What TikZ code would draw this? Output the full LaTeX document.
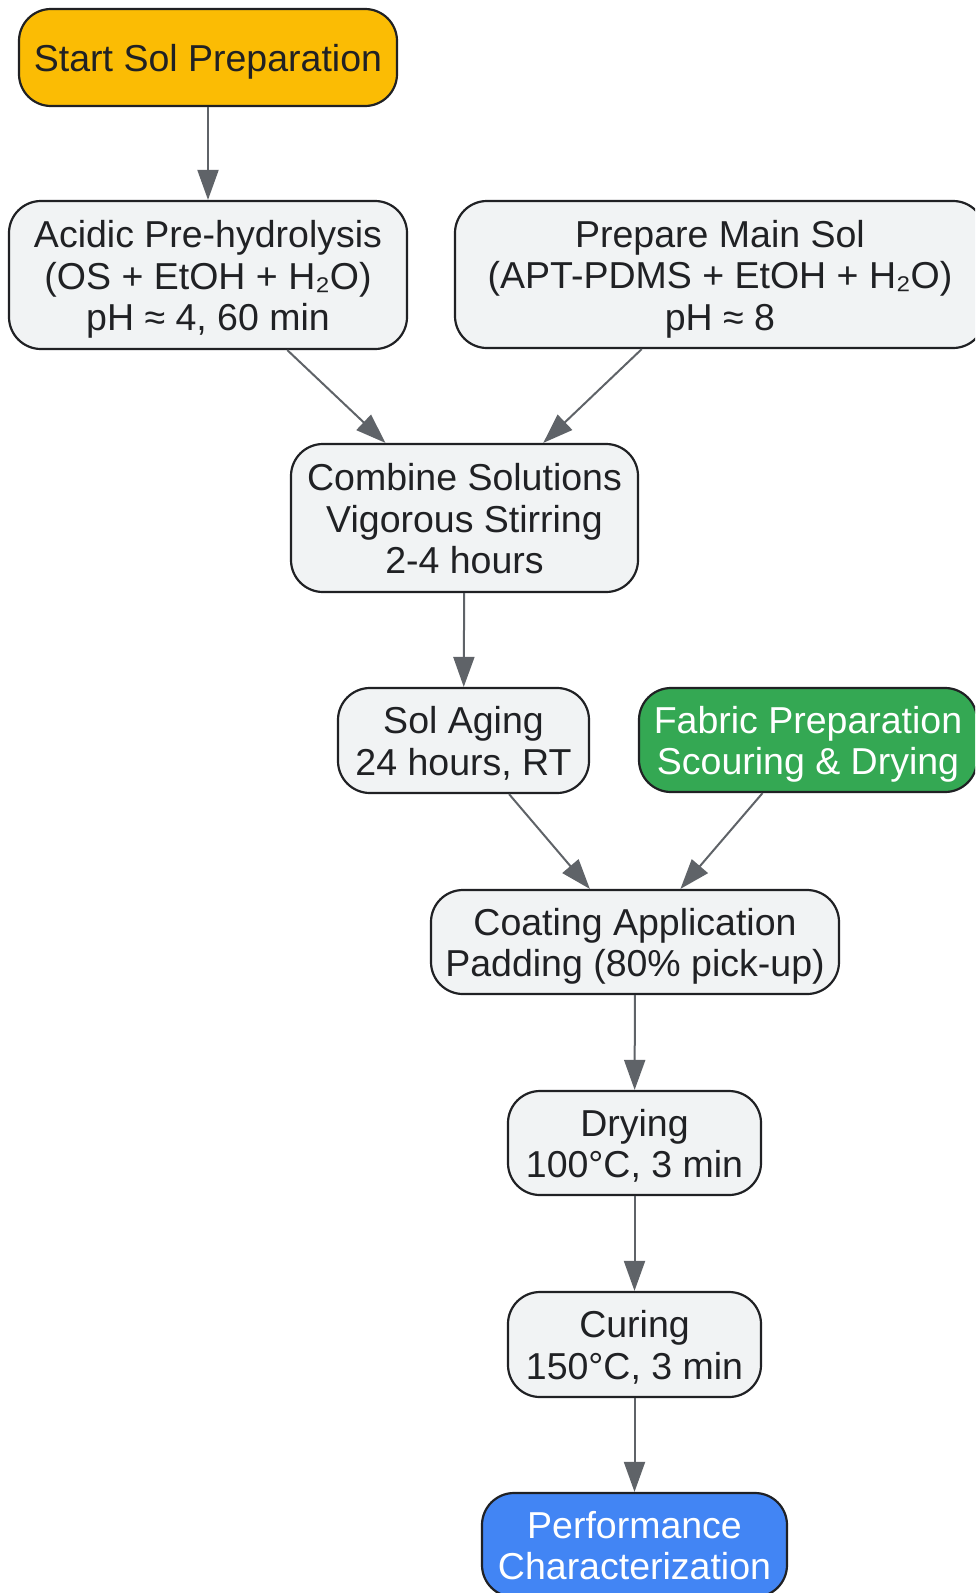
\documentclass[tikz,border=0pt]{standalone}
\usepackage{fontspec}
\setmainfont{Liberation Sans}
\usetikzlibrary{arrows.meta}
\definecolor{boxfill}{HTML}{F1F3F4}
\definecolor{edgec}{HTML}{5F6368}
\definecolor{startc}{HTML}{FBBC04}
\definecolor{greenc}{HTML}{34A853}
\definecolor{bluec}{HTML}{4285F4}
\definecolor{textc}{HTML}{202124}
\definecolor{borderc}{HTML}{202124}
\newcommand\tstrut{\rule{0pt}{36pt}}
\newcommand\bstrut{\rule[-8pt]{0pt}{8pt}}
\begin{document}
\begin{tikzpicture}[x=1pt,y=-1pt,
  box/.style={draw=borderc, line width=2.2pt, rounded corners=32pt, fill=boxfill,
    text=textc, align=center, inner sep=0pt,
    font=\fontsize{37.5pt}{41.5pt}\selectfont},
  arr/.style={draw=edgec, line width=2pt, -{Triangle[length=30pt,width=21pt]}}]
\useasboundingbox (0,0) rectangle (975,1593);
\clip (0,0) rectangle (975,1593);
\node[box, fill=startc, minimum width=378pt, minimum height=97pt] (start) at (208,57.5) {\tstrut Start Sol Preparation\bstrut};
\node[box, minimum width=398pt, minimum height=148pt] (acidic) at (208,275) {\tstrut Acidic Pre-hydrolysis\\(OS + EtOH + H₂O)\\pH ≈ 4, 60 min\bstrut};
\node[box, minimum width=530pt, minimum height=147pt] (prep) at (720,274.5) {\tstrut Prepare Main Sol\\(APT-PDMS + EtOH + H₂O)\\pH ≈ 8\bstrut};
\node[box, minimum width=347pt, minimum height=148pt] (combine) at (464.5,518) {\tstrut Combine Solutions\\Vigorous Stirring\\2-4 hours\bstrut};
\node[box, minimum width=251pt, minimum height=105pt] (aging) at (463.5,740.5) {\tstrut Sol Aging\\24 hours, RT\bstrut};
\node[box, fill=greenc, text=white, minimum width=338pt, minimum height=104pt] (fabric) at (808,740) {\tstrut Fabric Preparation\\Scouring \& Drying\bstrut};
\node[box, minimum width=408pt, minimum height=104pt] (coat) at (635,942) {\tstrut Coating Application\\Padding (80\% pick-up)\bstrut};
\node[box, minimum width=253pt, minimum height=104pt] (dry) at (634.5,1143) {\tstrut Drying\\100°C, 3 min\bstrut};
\node[box, minimum width=253pt, minimum height=105pt] (cure) at (634.5,1344.5) {\tstrut Curing\\150°C, 3 min\bstrut};
\node[box, fill=bluec, text=white, minimum width=305pt, minimum height=104pt] (perf) at (634.5,1545) {\tstrut Performance\\Characterization\bstrut};
\draw[arr] (start) -- (acidic);
\draw[arr] (acidic) -- (combine);
\draw[arr] (prep) -- (combine);
\draw[arr] (combine) -- (aging);
\draw[arr] (aging) -- (coat);
\draw[arr] (fabric) -- (coat);
\draw[arr] (coat) -- (dry);
\draw[arr] (dry) -- (cure);
\draw[arr] (cure) -- (perf);
\end{tikzpicture}
\end{document}
